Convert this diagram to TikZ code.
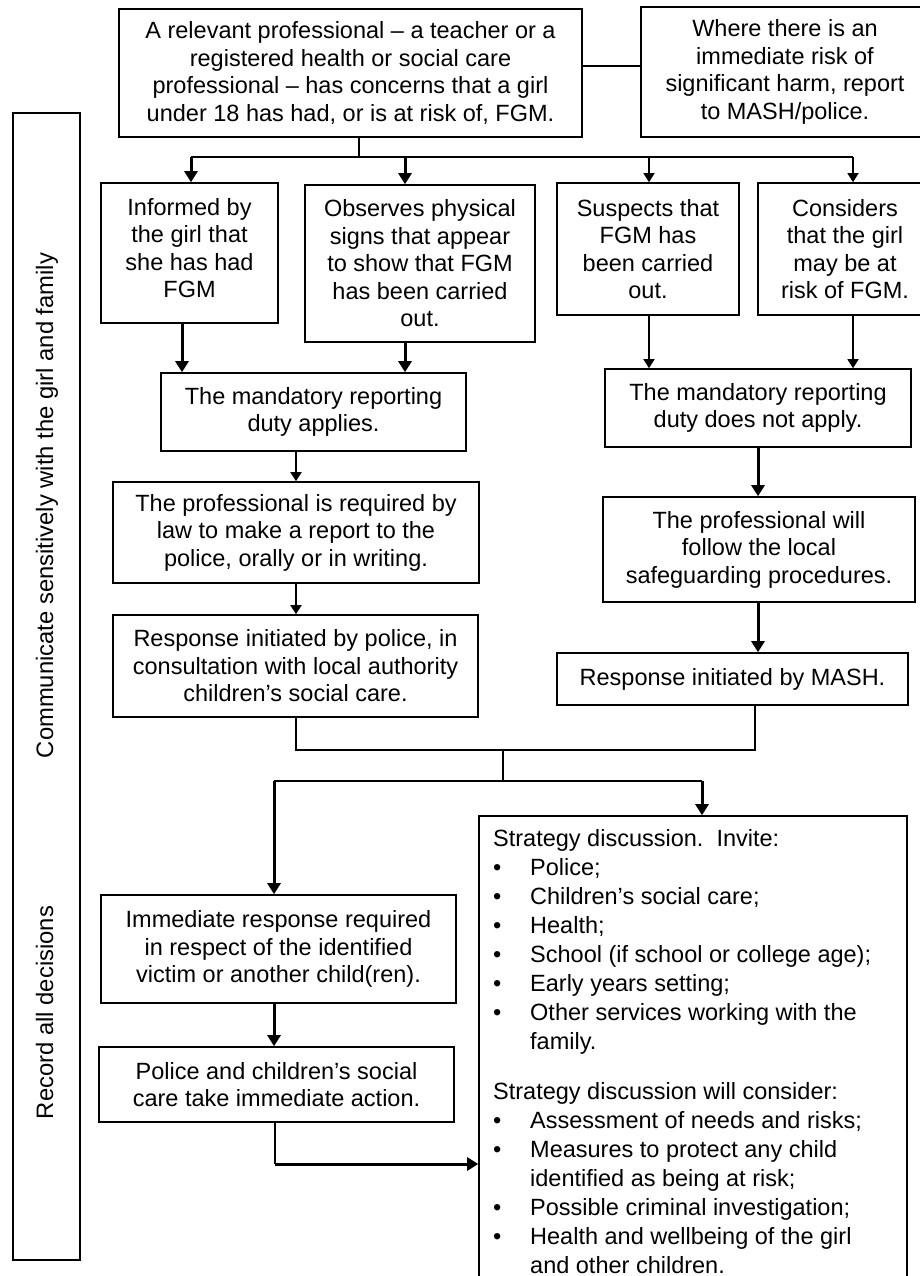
\documentclass[tikz,border=0pt]{standalone}
\usepackage{fontspec}
\setmainfont{Liberation Sans}
\usetikzlibrary{arrows.meta}
\newcommand{\stbul}{\makebox[37pt][l]{\textbullet}}
\tikzset{
  box/.style={draw, line width=1.6pt, inner sep=0pt, align=center,
    font=\fontsize{23.5}{27.5}\selectfont},
  sidetext/.style={rotate=90, anchor=base, inner sep=0pt,
    font=\fontsize{23.8}{28}\selectfont},
  thinline/.style={line width=1.5pt},
  thickline/.style={line width=3pt},
  thinarrow/.style={line width=1.5pt, -{Triangle[width=11pt,length=9pt]}},
  thickarrow/.style={line width=3pt, -{Triangle[width=13pt,length=11pt]}},
}
\begin{document}
\begin{tikzpicture}[x=1pt,y=-1pt]
\useasboundingbox (0,0) rectangle (920,1276);
\clip (0,0) rectangle (920,1276);
\fill[white] (0,0) rectangle (920,1276);

% top row
\node[box, minimum width=463pt, minimum height=128pt] (top) at (350.5,73)
  {A relevant professional – a teacher or a\\registered health or social care\\professional – has concerns that a girl\\under 18 has had, or is at risk of, FGM.};
\node[box, minimum width=288pt, minimum height=130pt] (risk) at (785,72)
  {Where there is an\\immediate risk of\\significant harm, report\\to MASH/police.};
\coordinate (c66) at (600,66);
\draw[thinline] (top.east |- c66) -- (risk.west |- c66);

% side box
\node[draw, line width=1.6pt, minimum width=67pt, minimum height=1147pt, inner sep=0pt] (side) at (46.5,686.5) {};
\node[sidetext] (comm) at (53,505.5) {Communicate sensitively with the girl and family};
\node[sidetext] (rec) at (53,1012.5) {Record all decisions};

% second row
\node[box, minimum width=177pt, minimum height=140pt] (b1) at (189.5,253)
  {Informed by\\the girl that\\she has had\\FGM\\[-17.5pt]\mbox{}};
\node[box, minimum width=230pt, minimum height=157pt] (b2) at (420,263.5)
  {Observes physical\\signs that appear\\to show that FGM\\has been carried\\out.};
\node[box, minimum width=182pt, minimum height=132pt] (b3) at (648,249)
  {Suspects that\\FGM has\\been carried\\out.};
\node[box, minimum width=174pt, minimum height=132pt] (b4) at (845,249)
  {Considers\\that the girl\\may be at\\risk of FGM.};

% third row
\node[box, minimum width=305pt, minimum height=78pt] (mand) at (313.5,412)
  {The mandatory reporting\\duty applies.};
\node[box, minimum width=306pt, minimum height=78pt] (notapp) at (758,408)
  {The mandatory reporting\\duty does not apply.};

\node[box, minimum width=366pt, minimum height=101pt] (req) at (296,532.5)
  {The professional is required by\\law to make a report to the\\police, orally or in writing.};
\node[box, minimum width=312pt, minimum height=105pt] (follow) at (759,549.5)
  {The professional will\\follow the local\\safeguarding procedures.};

\node[box, minimum width=365pt, minimum height=102pt] (polresp) at (295.5,666)
  {Response initiated by police, in\\consultation with local authority\\children’s social care.};
\node[box, minimum width=351pt, minimum height=52pt] (mash) at (732.5,679)
  {Response initiated by MASH.};

\node[box, minimum width=355pt, minimum height=108pt] (immed) at (278.5,949)
  {Immediate response required\\in respect of the identified\\victim or another child(ren).};
\node[box, minimum width=355pt, minimum height=75pt] (action) at (276.5,1084.5)
  {Police and children’s social\\care take immediate action.};

\node[draw, line width=1.6pt, minimum width=428pt, minimum height=484pt, inner sep=0pt] (strat) at (693,1058) {};
\node[anchor=north west, inner sep=0pt, align=left, font=\fontsize{23.5}{29}\selectfont] (stxt) at (493,829)
  {Strategy discussion.\ \ Invite:\\
   \stbul Police;\\
   \stbul Children’s social care;\\
   \stbul Health;\\
   \stbul School (if school or college age);\\
   \stbul Early years setting;\\
   \stbul Other services working with the\\
   \hspace*{37pt}family.\\[21pt]
   Strategy discussion will consider:\\
   \stbul Assessment of needs and risks;\\
   \stbul Measures to protect any child\\
   \hspace*{37pt}identified as being at risk;\\
   \stbul Possible criminal investigation;\\
   \stbul Health and wellbeing of the girl\\
   \hspace*{37pt}and other children.};

% connectors: top fan-out
\coordinate (j) at (359,157);
\coordinate (a1) at (191,157);
\coordinate (a2) at (405,157);
\coordinate (a3) at (649,157);
\coordinate (a4) at (853,157);
\draw[thinline] (top.south -| j) -- (j);
\draw[thinline] (a1) -- (a4);
\draw[thickarrow] (a1) -- (a1 |- b1.north);
\draw[thickarrow] (a2) -- (a2 |- b2.north);
\draw[thinarrow] (a3) -- (a3 |- b3.north);
\draw[thinarrow] (a4) -- (a4 |- b4.north);

% to mandatory boxes
\coordinate (x182) at (182,0);
\draw[thickarrow] (x182 |- b1.south) -- (x182 |- mand.north);
\draw[thickarrow] (a2 |- b2.south) -- (a2 |- mand.north);
\draw[thinarrow] (a3 |- b3.south) -- (a3 |- notapp.north);
\draw[thinarrow] (a4 |- b4.south) -- (a4 |- notapp.north);

% left chain
\coordinate (x296) at (296,0);
\draw[thinarrow] (x296 |- mand.south) -- (x296 |- req.north);
\draw[thinarrow] (x296 |- req.south) -- (x296 |- polresp.north);

% right chain
\coordinate (x758) at (758,0);
\draw[thickarrow] (x758 |- notapp.south) -- (x758 |- follow.north);
\draw[thickarrow] (x758 |- follow.south) -- (x758 |- mash.north);

% join
\coordinate (jl) at (296,750);
\coordinate (jr) at (755,750);
\coordinate (jm) at (503,750);
\coordinate (km) at (503,781);
\coordinate (kl) at (274,781);
\coordinate (kr) at (702,781);
\draw[thinline] (polresp.south -| jl) -- (jl) -- (jr) -- (jr |- mash.south);
\draw[thinline] (jm) -- (km);
\draw[thinline] (kl) -- (kr);
\draw[thickarrow] (kl) -- (kl |- immed.north);
\draw[thickarrow] (kr) -- (kr |- strat.north);
\draw[thickarrow] (kl |- immed.south) -- (kl |- action.north);

\coordinate (ll) at (275,1164);
\draw[thinline] (action.south -| ll) -- (ll);
\draw[thickarrow] (ll) -- (ll -| strat.west);
\end{tikzpicture}
\end{document}
